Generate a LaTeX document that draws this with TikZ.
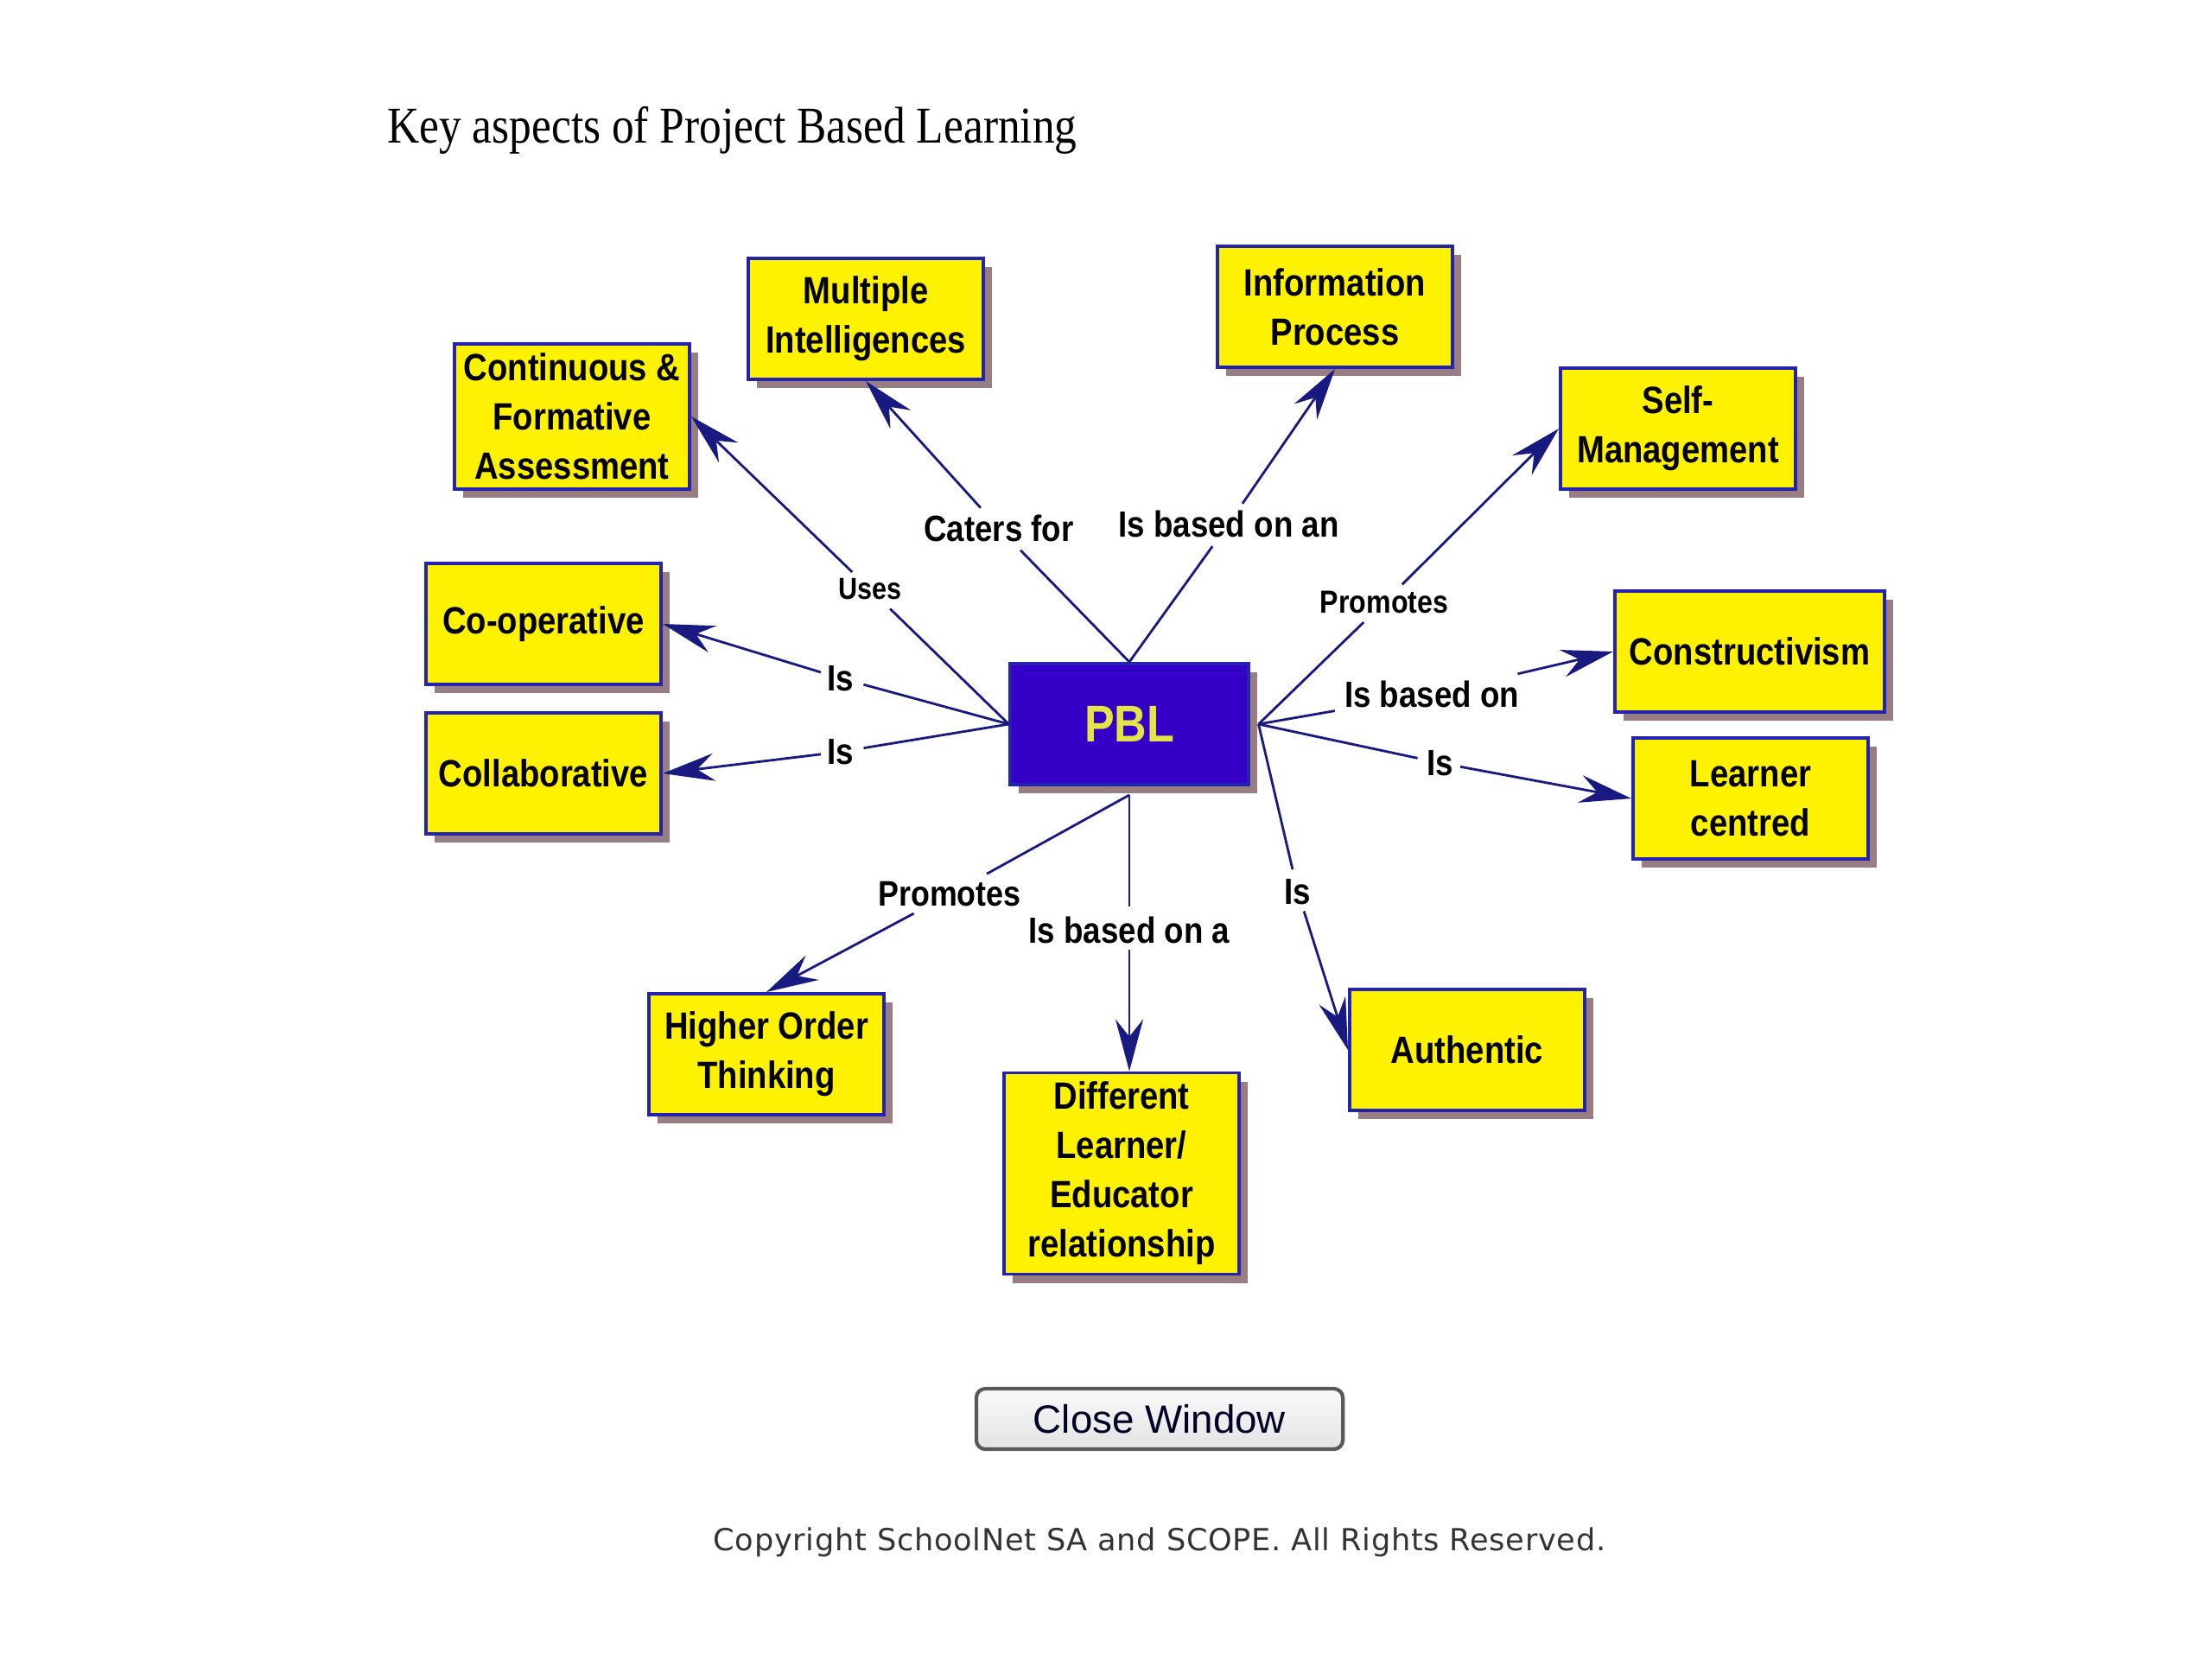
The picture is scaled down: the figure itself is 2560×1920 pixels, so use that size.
\documentclass[tikz,border=0pt]{standalone}
\usepackage{fontspec}
\setmainfont{Liberation Serif}
\newfontfamily\mapfont[FakeStretch=0.87]{Liberation Sans}
\newfontfamily\headfont[FakeStretch=0.86]{Liberation Serif}
\newfontfamily\btnfont{Liberation Sans}
\newfontfamily\notefont[LetterSpace=2]{DejaVu Sans}
\usetikzlibrary{arrows.meta,shadows}

\definecolor{boxblue}{RGB}{35,35,175}
\definecolor{linknavy}{RGB}{25,25,130}
\definecolor{shadowbrown}{RGB}{152,126,130}
\definecolor{pblfill}{RGB}{52,0,200}
\definecolor{pbltext}{RGB}{228,228,70}

\begin{document}
\begin{tikzpicture}[x=0.01cm,y=-0.01cm,shorten >=1pt,-]
    \tikzstyle{concept}=[rectangle,draw=boxblue,line width=1.1pt,fill=yellow,minimum width=2.72cm,minimum height=1.4cm,inner sep=3pt,align=center,font=\mapfont\bfseries\fontsize{12.5}{16.2}\selectfont,drop shadow={shadow xshift=0.1cm,shadow yshift=-0.1cm,fill=shadowbrown,opacity=1}]
    \tikzstyle{verb}=[inner sep=2pt]
    \tikzstyle{link}=[draw=linknavy,line width=0.8pt]
    \tikzstyle{arrow}=[link,-{Stealth[length=6mm,width=3.2mm,inset=2mm]},shorten >=0pt]

    \fill[white] (0,0) rectangle (2560,1920);
    \useasboundingbox (0,0) rectangle (2560,1920);

    \node[anchor=base west,font=\headfont\fontsize{17}{20}\selectfont] (title) at (436,165) {Key aspects of Project Based Learning};

    % the hub
    \node[concept,fill=pblfill,text=pbltext,minimum width=2.75cm,font=\mapfont\bfseries\fontsize{17}{20}\selectfont] (C-pbl) at (1307,838) {PBL};
    \coordinate (P-e) at ([xshift=0.1cm]C-pbl.east);
    \coordinate (P-s) at ([yshift=-0.1cm]C-pbl.south);

    \foreach \name/\x/\y/\txt in {cfa/662/482/{Continuous \&\\Formative\\Assessment}, mi/1002/369/{Multiple\\Intelligences}, ip/1545/355/{Information\\Process}, sm/1942/496/{Self-\\Management}, coop/629/722/Co-operative, collab/629/895/Collaborative, lc/2026/924/{Learner\\centred}, hot/887/1220/{Higher Order\\Thinking}, dle/1298/1358/{Different\\Learner/\\Educator\\relationship}, auth/1698/1215/Authentic}
        \node[concept] (C-\name) at (\x,\y) {\txt};
    \node[concept,minimum width=3.12cm] (C-con) at (2025,754) {Constructivism};

    % link words
    \foreach \name/\x/\y/\sz/\txt in {uses/1007/682/10/Uses, caters/1156/611/12/Caters for, ipan/1422/606/12/Is based on an, promup/1602/697/10.5/Promotes, basedon/1657/803/12/Is based on, islc/1667/883/12/Is, isauth/1502/1032/12/Is, baseda/1307/1076/12/Is based on a, promlow/1099/1035/11.7/Promotes, iscoop/973/785/12/Is, iscollab/973/870/12/Is}
        \node[verb,font=\mapfont\bfseries\fontsize{\sz}{14}\selectfont] (L-\name) at (\x,\y) {\txt};

    \foreach \src/\lab/\dst in {C-pbl.west/uses/C-cfa.east, C-pbl.north/caters/C-mi.south, C-pbl.north/ipan/C-ip.south, P-e/promup/C-sm.west, P-e/basedon/C-con.west, P-e/islc/C-lc.west, P-e/isauth/C-auth.west, P-s/baseda/L-baseda |- C-dle.north, P-s/promlow/C-hot.north, C-pbl.west/iscoop/C-coop.east, C-pbl.west/iscollab/C-collab.east}
    {
        \draw[link] (\src) -- (L-\lab);
        \draw[arrow] (L-\lab) -- (\dst);
    }

    \node[draw=gray!70!black,line width=1.2pt,rounded corners=3pt,top color=gray!4,bottom color=gray!22,minimum width=4.24cm,minimum height=0.7cm,font=\btnfont\fontsize{13}{15}\selectfont,text=black!85!blue] (close) at (1342,1642) {Close Window};
    \node[font=\notefont\fontsize{10}{12}\selectfont,text=black!80] (copy) at (1342,1785) {Copyright SchoolNet SA and SCOPE. All Rights Reserved.};
\end{tikzpicture}
\end{document}
